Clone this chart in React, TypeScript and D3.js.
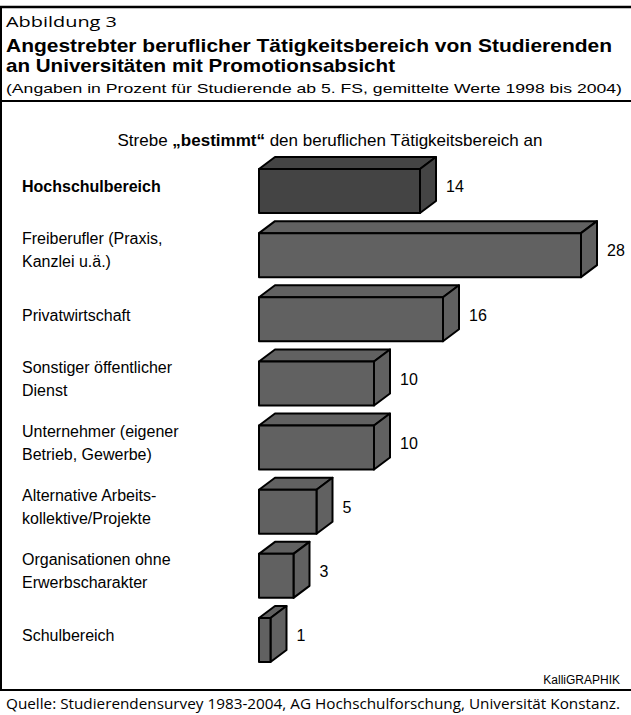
import React from "react";
import * as d3 from "d3";

const categories: string[][] = [
  ["Hochschulbereich"],
  ["Freiberufler (Praxis,", "Kanzlei u.ä.)"],
  ["Privatwirtschaft"],
  ["Sonstiger öffentlicher", "Dienst"],
  ["Unternehmer (eigener", "Betrieb, Gewerbe)"],
  ["Alternative Arbeits-", "kollektive/Projekte"],
  ["Organisationen ohne", "Erwerbscharakter"],
  ["Schulbereich"],
];
const values: number[] = [14, 28, 16, 10, 10, 5, 3, 1];

const W = 631;
const H = 715;
const DX = 16;
const DY = 12;
const BAR_H = 44;

export default function App() {
  const x = d3.scaleLinear().domain([0, 28]).range([259, 581]);
  const y = d3.scaleLinear().domain([0, values.length - 1]).range([169, 618]);
  const labelFont = "'Liberation Sans', Arial, sans-serif";
  const titleFont = "'Open Sans', 'Noto Sans', sans-serif";

  return (
    <svg width={W} height={H} style={{ position: "absolute", left: 0, top: 0, background: "#fff" }}>
      <rect x={0} y={0} width={W} height={H} fill="#fff" />
      <line x1={0} x2={W} y1={7} y2={7} stroke="#000" strokeWidth={2.5} />
      <line x1={1} x2={1} y1={6} y2={691} stroke="#000" strokeWidth={2} />
      <line x1={0} x2={W} y1={101} y2={101} stroke="#000" strokeWidth={2} />
      <line x1={0} x2={W} y1={690} y2={690} stroke="#000" strokeWidth={2} />

      <text x={6} y={27} fontFamily={titleFont} fontSize={15} fill="#000" textLength={111} lengthAdjust="spacingAndGlyphs">
        Abbildung 3
      </text>
      <text x={6} y={52} fontFamily={labelFont} fontSize={17.8} fontWeight={700} fill="#000" textLength={606} lengthAdjust="spacingAndGlyphs">
        Angestrebter beruflicher Tätigkeitsbereich von Studierenden
      </text>
      <text x={6} y={72} fontFamily={labelFont} fontSize={17.8} fontWeight={700} fill="#000" textLength={389} lengthAdjust="spacingAndGlyphs">
        an Universitäten mit Promotionsabsicht
      </text>
      <text x={6} y={93} fontFamily={labelFont} fontSize={13.5} fill="#000" textLength={616} lengthAdjust="spacingAndGlyphs">
        (Angaben in Prozent für Studierende ab 5. FS, gemittelte Werte 1998 bis 2004)
      </text>

      <text x={330} y={146} textAnchor="middle" fontFamily={labelFont} fontSize={17} fill="#000">
        Strebe <tspan fontWeight={700}>„bestimmt“</tspan> den beruflichen Tätigkeitsbereich an
      </text>

      {values.map((v, i) => {
        const x0 = x(0);
        const x1 = x(v);
        const y0 = y(i);
        const y1 = y0 + BAR_H;
        const fill = i === 0 ? "#444444" : "#616161";
        const front = `M${x0},${y0}H${x1}V${y1}H${x0}Z`;
        const top = `M${x0},${y0}L${x0 + DX},${y0 - DY}H${x1 + DX}L${x1},${y0}Z`;
        const side = `M${x1},${y0}L${x1 + DX},${y0 - DY}V${y1 - DY}L${x1},${y1}Z`;
        const cy = y0 + BAR_H / 2;
        const lines = categories[i];
        const labelY = lines.length === 1 ? cy - 3 : cy - 15;
        return (
          <g key={i}>
            <path d={top} fill={fill} stroke="#000" strokeWidth={2} strokeLinejoin="round" />
            <path d={side} fill={fill} stroke="#000" strokeWidth={2} strokeLinejoin="round" />
            <path d={front} fill={fill} stroke="#000" strokeWidth={2} strokeLinejoin="round" />
            <text x={x1 + DX + 10} y={cy - 3} dominantBaseline="middle" fontFamily={labelFont} fontSize={16} fill="#000">
              {v}
            </text>
            <text fontFamily={labelFont} fontSize={16} fontWeight={i === 0 ? 700 : 400} fill="#000">
              {lines.map((l, j) => (
                <tspan key={j} x={22} y={labelY + j * 23} dominantBaseline="middle">
                  {l}
                </tspan>
              ))}
            </text>
          </g>
        );
      })}

      <text x={620} y={684} textAnchor="end" fontFamily={labelFont} fontSize={12} fill="#000">
        KalliGRAPHIK
      </text>
      <text x={6} y={709} fontFamily={titleFont} fontSize={14} fill="#000" textLength={614} lengthAdjust="spacingAndGlyphs">
        Quelle: Studierendensurvey 1983-2004, AG Hochschulforschung, Universität Konstanz.
      </text>
    </svg>
  );
}
